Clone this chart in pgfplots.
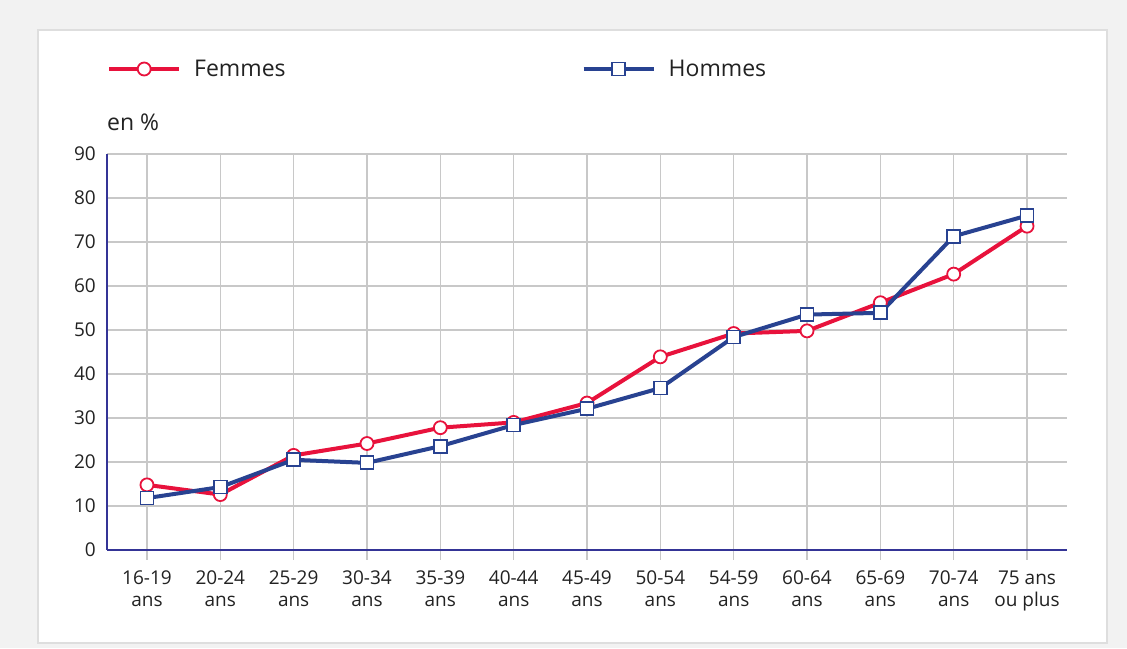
\documentclass[border=0pt]{standalone}
\usepackage{pgfplots}
\pgfplotsset{compat=1.18}
\usepackage{fontspec}
\setmainfont{Open Sans}
\definecolor{fred}{RGB}{232,18,60}
\definecolor{hblue}{RGB}{40,66,145}
\definecolor{axblue}{RGB}{52,52,150}
\definecolor{gridc}{RGB}{200,200,200}
\definecolor{bg}{RGB}{242,242,242}
\definecolor{panelb}{RGB}{222,222,222}
\definecolor{txt}{RGB}{34,34,34}
\begin{document}
\begin{tikzpicture}[x=1pt,y=1pt]
\fill[bg] (0,0) rectangle (1127,648);
\filldraw[fill=white, draw=panelb, line width=1.5pt] (38,5) rectangle (1107,618);
\begin{axis}[
  at={(107pt,98pt)}, anchor=south west,
  scale only axis, width=960pt, height=396pt,
  xmin=-0.545, xmax=12.545, ymin=0, ymax=90,
  ytick={0,10,...,90}, xtick={0,...,12},
  xticklabels={{16-19\\ans},{20-24\\ans},{25-29\\ans},{30-34\\ans},{35-39\\ans},{40-44\\ans},{45-49\\ans},{50-54\\ans},{54-59\\ans},{60-64\\ans},{65-69\\ans},{70-74\\ans},{75 ans\\ou plus}},
  axis x line*=bottom, axis y line*=left,
  axis line style={draw=axblue, line width=1.6pt, -},
  grid=major, major grid style={draw=gridc, line width=1.4pt},
  tick align=outside, major tick length=10pt,
  xtick style={draw=gridc, line width=1.4pt},
  ytick style={draw=none},
  xticklabel style={align=center, inner sep=0pt, yshift=-11pt, text=txt, font=\fontsize{19}{22}\selectfont},
  yticklabel style={inner sep=0pt, xshift=-1pt, text=txt, font=\fontsize{19}{22}\selectfont},
  /pgf/number format/assume math mode=true,
  ylabel={en \%},
  every axis y label/.style={at={(axis description cs:0,1)}, anchor=base west, inner sep=0pt, yshift=24pt, font=\fontsize{23}{26}\selectfont, text=txt},
  clip=false,
  legend columns=2,
  legend image code/.code={\draw[mark repeat=2,mark phase=2,#1] plot coordinates {(0pt,0pt) (35pt,0pt) (70pt,0pt)};},
  legend style={at={(axis description cs:0,1)}, anchor=west, yshift=85pt, draw=none, fill=none, inner sep=0pt,
    font=\fontsize{23}{26}\selectfont, text=txt, nodes={inner sep=0pt},
    /tikz/every odd column/.append style={column sep=13pt},
    /tikz/every even column/.append style={column sep=296pt}},
  legend cell align=left,
]
\addplot[color=fred, line width=4pt, mark=*, mark size=6.5pt, mark options={fill=white, draw=fred, line width=1.8pt}]
coordinates {(0,14.8) (1,12.6) (2,21.5) (3,24.2) (4,27.8) (5,29.0) (6,33.4) (7,43.9) (8,49.2) (9,49.8) (10,56.2) (11,62.7) (12,73.6)};
\addlegendentry{Femmes}
\addplot[color=hblue, line width=4pt, mark=square*, mark size=6.5pt, mark options={fill=white, draw=hblue, line width=1.8pt}]
coordinates {(0,11.8) (1,14.3) (2,20.5) (3,19.8) (4,23.6) (5,28.4) (6,32.1) (7,36.8) (8,48.4) (9,53.5) (10,53.9) (11,71.3) (12,76.0)};
\addlegendentry{Hommes}
\end{axis}
\end{tikzpicture}
\end{document}
